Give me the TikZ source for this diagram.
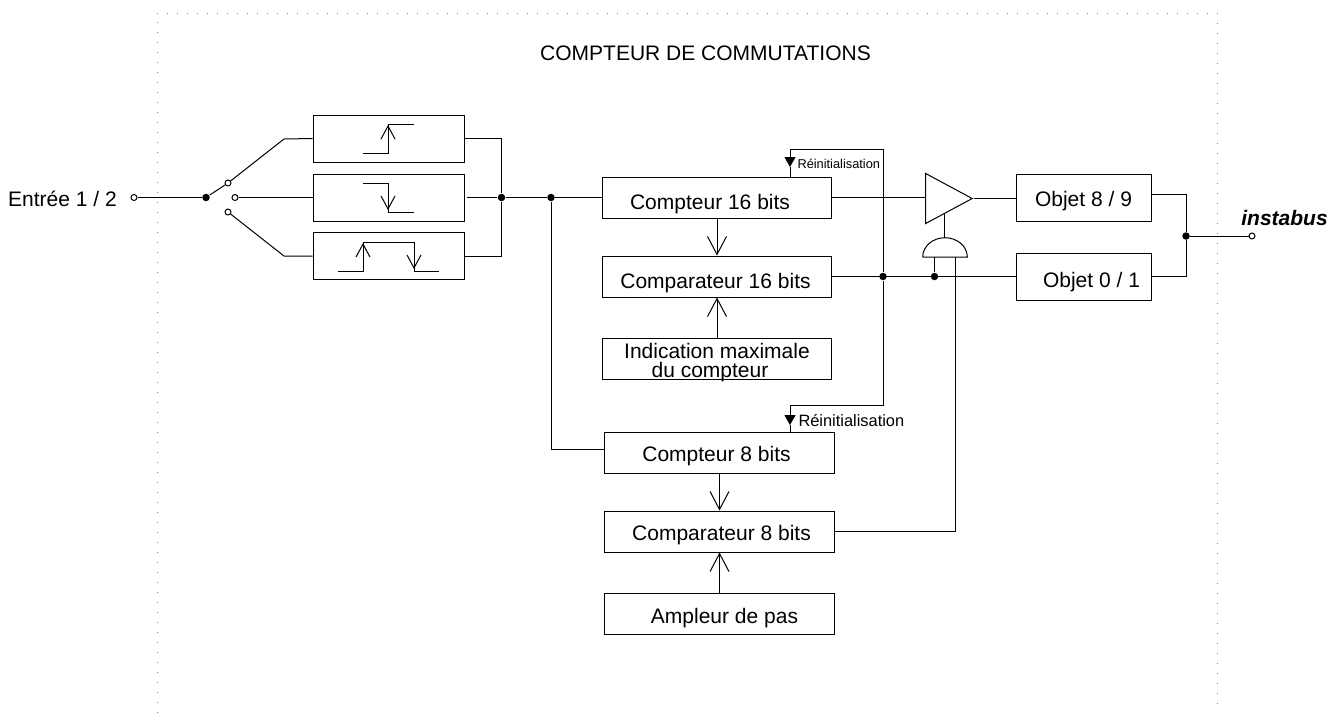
\documentclass[tikz,border=0pt]{standalone}
\usepackage{fontspec}
\setmainfont{Liberation Sans}
\usetikzlibrary{arrows.meta,shapes.geometric}

\begin{document}
\begin{tikzpicture}[x=1pt,y=-1pt,line width=1pt]
  \tikzset{block/.style = {shape=rectangle,draw,inner sep=0pt,minimum width=229.5pt,minimum height=41pt}} % main boxes
  \tikzset{edgebox/.style = {block,minimum width=151pt,minimum height=47pt}}
  \tikzset{objbox/.style = {block,minimum width=135pt,minimum height=47pt}}
  \tikzset{txt/.style = {font=\fontsize{21}{19}\selectfont,align=center,inner sep=0pt}}
  \tikzset{small/.style = {inner sep=0pt,anchor=west}}
  \tikzset{junction/.style = {shape=circle,fill=black,inner sep=0pt,minimum size=7.5pt}}
  \tikzset{terminal/.style = {shape=circle,draw,fill=white,inner sep=0pt,minimum size=6pt}}
  \tikzset{openhead/.style = {-{Straight Barb[length=18pt,width=19pt]}}}
  \tikzset{stephead/.style = {-{Straight Barb[length=13pt,width=14pt]}}}
  \tikzset{rsthead/.style = {-{Triangle[length=10pt,width=11pt]}}}
  \tikzset{frameline/.style = {gray,dash pattern=on 1pt off 9pt}}

  \useasboundingbox (0,0) rectangle (1330,713);

  % frame and titles
  \draw[frameline] (157,713) |- (1217,13) -- (1217,713);
  \node[txt] (title) at (705.5,53) {COMPTEUR DE COMMUTATIONS};
  \node[txt] (inlabel) at (62.5,199) {Entrée 1 / 2};
  \node[txt,font=\fontsize{21}{19}\selectfont\bfseries\itshape] (buslabel) at (1284.5,218) {instabus};

  % edge boxes
  \node[edgebox] (rise) at (388.5,138.5) {};
  \node[edgebox] (fall) at (388.5,197.5) {};
  \node[edgebox] (both) at (388.5,256) {};

  % counter boxes
  \node[block,label={[txt,xshift=-7pt,yshift=-7pt]center:Compteur 16 bits}] (cnt16) at (717,197.5) {};
  \node[block,label={[txt,xshift=-1.5pt,yshift=-7pt]center:Comparateur 16 bits}] (cmp16) at (717,276.5) {};
  \node[block,label={[txt,yshift=-4pt]center:Indication maximale\\du compteur\hspace*{14pt}}] (maxval) at (717,358.5) {};
  \node[block,label={[txt,xshift=-3pt,yshift=-4pt]center:Compteur 8 bits}] (cnt8) at (719.5,452.5) {};
  \node[block,label={[txt,xshift=2pt,yshift=-4pt]center:Comparateur 8 bits}] (cmp8) at (719.5,531.5) {};
  \node[block,label={[txt,xshift=5pt,yshift=-5pt]center:Ampleur de pas}] (step8) at (719.5,613.5) {};

  % output boxes
  \node[objbox,label={[txt,yshift=-4pt]center:Objet 8 / 9}] (obj89) at (1083.5,197.5) {};
  \node[objbox,label={[txt,xshift=8pt,yshift=-6pt]center:Objet 0 / 1}] (obj01) at (1083.5,276.5) {};

  % driver
  \node[shape=isosceles triangle,draw,inner sep=0pt,isosceles triangle stretches,minimum width=50pt,minimum height=46.5pt,anchor=apex] (driver) at (973.5,198.5) {};

  % terminals and junctions
  \node[terminal] (in) at (134,197.5) {};
  \node[junction] (pivot) at (206,197.5) {};
  \node[terminal] (upper) at (228,183) {};
  \node[terminal] (middle) at (235,197.5) {};
  \node[terminal] (lower) at (228,212) {};
  \node[junction] (merge) at (501.5,197.5) {};
  \node[junction] (split) at (551,197.5) {};
  \node[junction] (rstjoin) at (883,276.5) {};
  \node[junction] (gatejoin) at (934.5,276.5) {};
  \node[junction] (outjoin) at (1186,236) {};
  \node[terminal] (bus) at (1252,236) {};

  \coordinate (upbend) at (284,139);
  \coordinate (lowbend) at (284,256);
  \coordinate (fallout) at (467,197.5);
  \coordinate (cnt8in) at (605,449);
  \coordinate (tapa) at (790,177);
  \coordinate (tipa) at (790,167);
  \coordinate (topa) at (790,149);
  \coordinate (tapb) at (790,432);
  \coordinate (tipb) at (790,425);
  \coordinate (topb) at (790,405);
  \coordinate (rstturn) at (883,149);
  \coordinate (gatel) at (934.5,257);
  \coordinate (gater) at (955,257);
  \coordinate (gateout) at (944.7,237.7);
  \coordinate (driverin) at (944.7,214);
  \coordinate (obj89out) at (1151,194);

  % input switch
  \draw (in) -- (pivot);
  \draw (pivot) -- (upper);
  \draw (upper) -- (upbend) -- (rise.west);
  \draw (middle) -- (fall.west);
  \draw (lower) -- (lowbend) -- (both.west);

  % edge detector outputs
  \draw (rise.east) -| (merge);
  \draw (both.east) -| (merge);
  \draw (fallout) -- (merge);
  \draw (merge) -- (split);
  \draw (split) -- (cnt16.west);
  \draw (split) |- (cnt8in);

  % edge symbols
  \draw (363,153) -| (388,124) -- (414,124);
  \draw[stephead] (388,153) -- (388,125);
  \draw (363,183) -| (388,212) -- (414,212);
  \draw[stephead] (388,183) -- (388,210);
  \draw (338,271) -| (363,242) -| (414,271) -- (439,271);
  \draw[stephead] (363,271) -- (363,243);
  \draw[stephead] (414,242) -- (414,269);

  % counter chains
  \draw[openhead] (cnt16.south) -- (cnt16.south |- cmp16.north);
  \draw[openhead] (maxval.north) -- (cmp16.south);
  \draw[openhead] (cnt8.south) -- (cmp8.north);
  \draw[openhead] (step8.north) -- (cmp8.south);

  % reset lines
  \draw (rstjoin) -- (rstturn);
  \draw[rsthead] (rstturn) -- (topa) -- (tipa);
  \draw (tipa) -- (tapa);
  \draw (rstjoin) |- (topb);
  \draw[rsthead] (topb) -- (tipb);
  \draw (tipb) -- (tapb);
  \node[small,font=\fontsize{12.8}{14}\selectfont] (rstlabela) at (797,164) {Réinitialisation};
  \node[small,font=\fontsize{16.4}{18}\selectfont] (rstlabelb) at (798,421) {Réinitialisation};

  % gate
  \draw (922.7,257) -- (967.3,257) arc[start angle=0,end angle=180,x radius=22.3pt,y radius=19.3pt];
  \draw (gateout) -- (driverin);
  \draw (gatel) -- (gatejoin);
  \draw (gater) |- (cmp8.east);

  % outputs
  \draw (cnt16.east) -- (cnt16.east -| driver.west);
  \draw (driver.apex) -- (driver.apex -| obj89.west);
  \draw (cmp16.east) -- (obj01.west);
  \draw (obj89out) -| (outjoin);
  \draw (obj01.east) -| (outjoin);
  \draw (outjoin) -- (bus);

\end{tikzpicture}
\end{document}
